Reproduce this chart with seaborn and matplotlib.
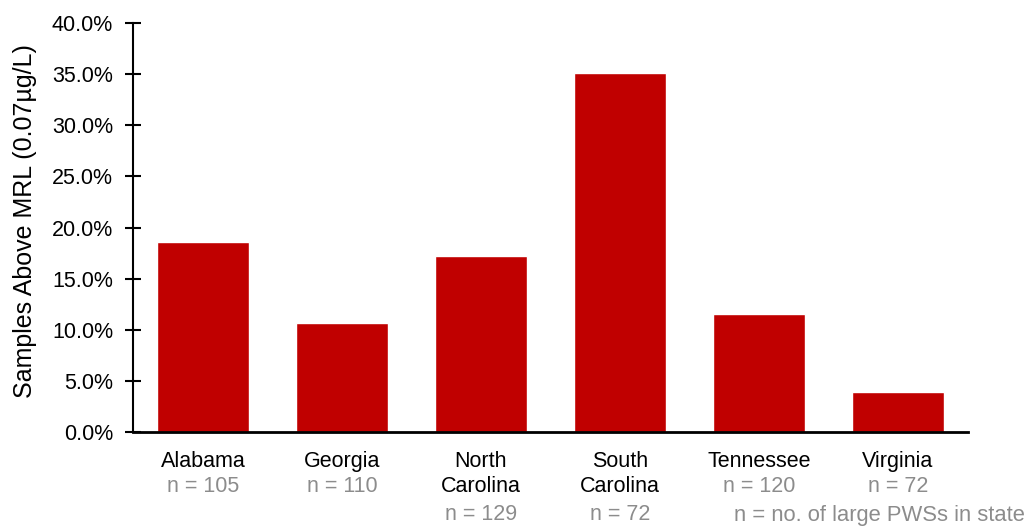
import matplotlib
matplotlib.use("Agg")
import matplotlib.pyplot as plt
import matplotlib.transforms as mtransforms
from matplotlib.ticker import PercentFormatter
import seaborn as sns
import pandas as pd

# chart data
states = ["Alabama", "Georgia", "North\nCarolina", "South\nCarolina", "Tennessee", "Virginia"]
pct_above_mrl = [18.6, 10.7, 17.2, 35.1, 11.5, 3.9]
n_systems = [105, 110, 129, 72, 120, 72]

df = pd.DataFrame({"State": states, "Pct": pct_above_mrl, "N": n_systems})

sns.set_theme(style="white")
plt.rcParams["font.family"] = ["Liberation Sans", "DejaVu Sans"]

fs = 15.5

fig = plt.figure(figsize=(10.26, 5.28), dpi=100)
ax = fig.add_axes([0.13, 0.182, 0.813, 0.774])

sns.barplot(data=df, x="State", y="Pct", color="#C00000", saturation=1,
            width=0.66, ax=ax)

ax.set_ylim(0, 40)
ax.set_xlim(-0.5, 5.5)
ax.set_yticks(range(0, 41, 5))
ax.yaxis.set_major_formatter(PercentFormatter(decimals=1))
ax.set_ylabel("Samples Above MRL (0.07µg/L)", fontsize=18, color="black", labelpad=11)
ax.yaxis.label.set_y(0.515)
ax.set_xlabel("")

for side in ["top", "right"]:
    ax.spines[side].set_visible(False)
ax.spines["left"].set_color("black")
ax.spines["left"].set_linewidth(1.5)
ax.spines["bottom"].set_color("black")
ax.spines["bottom"].set_linewidth(2)

ax.tick_params(axis="y", direction="inout", length=11, width=1.5, color="black",
               labelsize=fs, labelcolor="black", left=True, pad=9)
ax.tick_params(axis="x", bottom=False, labelsize=fs, labelcolor="black", pad=8)

# n = ... labels under each state name
trans = mtransforms.blended_transform_factory(ax.transData, ax.transAxes)
for i, (name, n) in enumerate(zip(states, n_systems)):
    lines = name.count("\n") + 1
    offset = -11.5 - 20.2 * lines
    ax.annotate(f"n = {n}", xy=(i, 0), xycoords=trans,
                xytext=(0, offset), textcoords="offset points",
                ha="center", va="top", fontsize=fs, color="#8C8C8C")

fig.text(0.999, 0.003, "n = no. of large PWSs in state", ha="right", va="bottom",
         fontsize=15.8, color="#8C8C8C")

fig.savefig("out.png", dpi=100)
